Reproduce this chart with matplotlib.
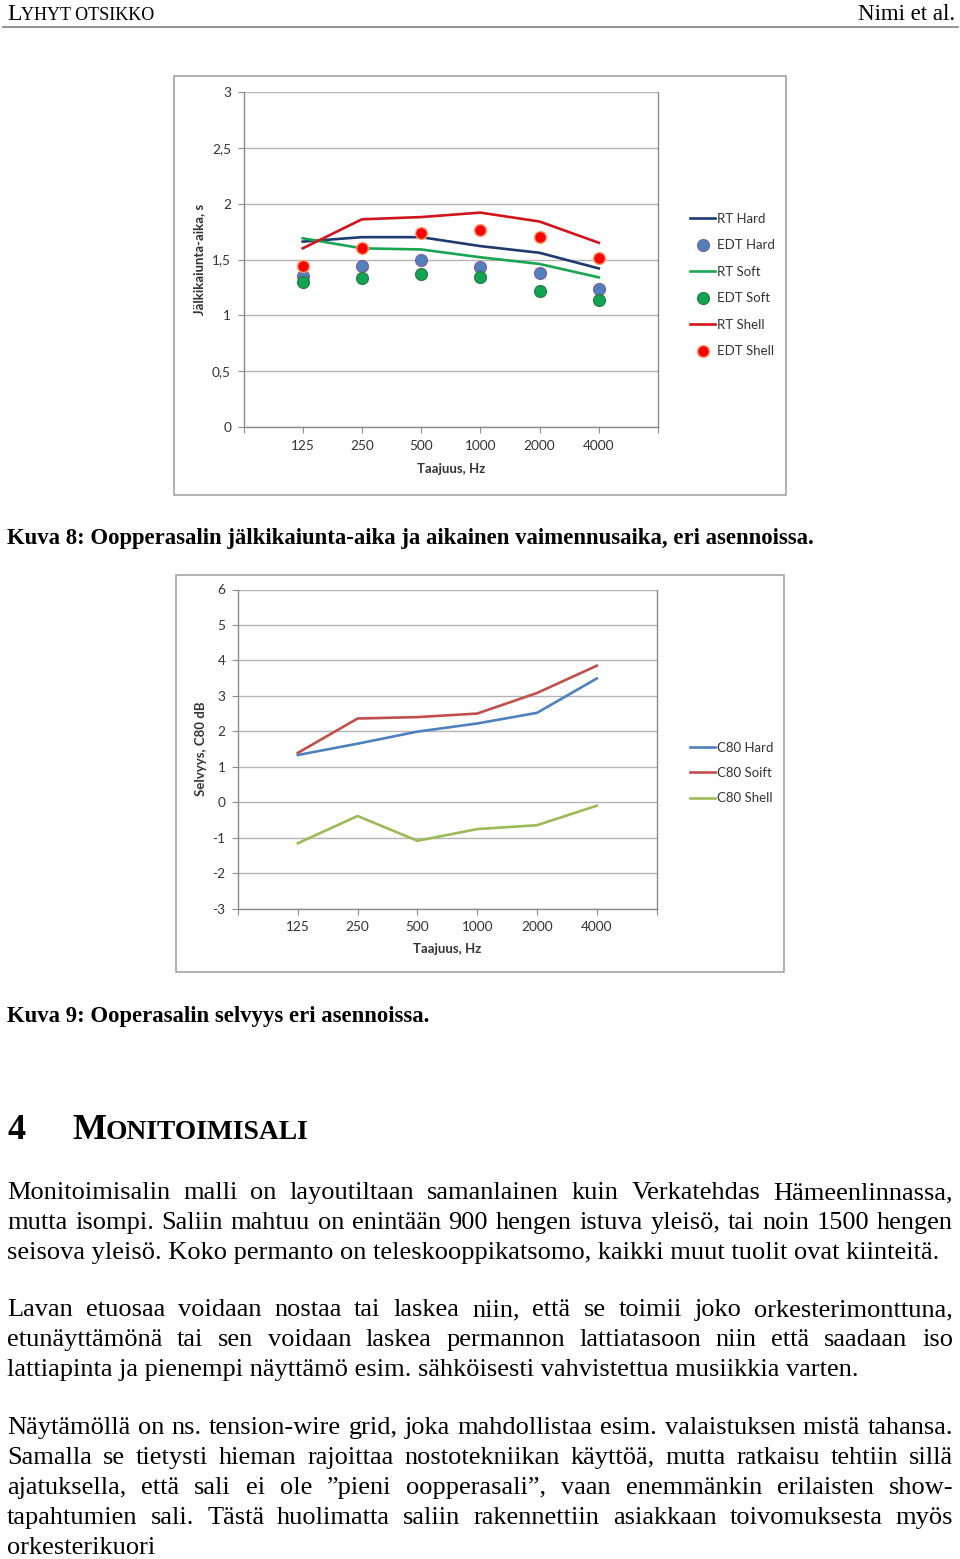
import matplotlib
matplotlib.use('Agg')
import matplotlib.pyplot as plt
from matplotlib.lines import Line2D
from matplotlib.patches import Rectangle

W, H = 960, 1559

freqs = ['125', '250', '500', '1000', '2000', '4000']

# Kuva 8: reverberation times (s)
rt_hard = [1.66, 1.70, 1.70, 1.62, 1.56, 1.42]
edt_hard = [1.35, 1.44, 1.50, 1.43, 1.38, 1.24]
rt_soft = [1.69, 1.60, 1.59, 1.52, 1.46, 1.34]
edt_soft = [1.30, 1.33, 1.37, 1.34, 1.22, 1.14]
rt_shell = [1.60, 1.86, 1.88, 1.92, 1.84, 1.65]
edt_shell = [1.44, 1.60, 1.74, 1.76, 1.70, 1.51]

# Kuva 9: clarity C80 (dB)
c80_hard = [1.33, 1.65, 1.99, 2.22, 2.52, 3.49]
c80_soft = [1.39, 2.36, 2.40, 2.50, 3.08, 3.85]
c80_shell = [-1.16, -0.39, -1.09, -0.76, -0.65, -0.10]

ticks1 = [0, 0.5, 1, 1.5, 2, 2.5, 3]
tick_labels1 = ['0', '0,5', '1', '1,5', '2', '2,5', '3']
ticks2 = list(range(-3, 7))
tick_labels2 = [str(t) for t in ticks2]

chart_font = ['Lato', 'DejaVu Sans']
serif = ['Liberation Serif', 'DejaVu Serif']

fig = plt.figure(figsize=(W / 100, H / 100), dpi=100)
fig.patch.set_facecolor('white')
renderer = fig.canvas.get_renderer()


def fx(x):
    return x / W


def fy(y):
    return 1 - y / H


def style_axes(ax, ticks, labels, ylabel):
    ax.set_xlim(0, 7)
    ax.set_ylim(ticks[0], ticks[-1])
    ax.set_xticks(range(8), [''] + freqs + [''])
    ax.set_yticks(ticks, labels)
    ax.grid(axis='y', color='#b4b4b4', lw=1.0)
    ax.set_axisbelow(True)
    for s in ['left', 'bottom', 'right']:
        ax.spines[s].set_color('#8c8c8c')
        ax.spines[s].set_linewidth(1.0)
    ax.spines['top'].set_visible(False)
    ax.tick_params(direction='out', length=4, color='#8c8c8c', labelsize=9.8,
                   labelcolor='#333333', pad=5)
    for lab in ax.get_xticklabels() + ax.get_yticklabels():
        lab.set_family(chart_font)
    ax.set_xlabel('Taajuus, Hz', family=chart_font, fontsize=9.5,
                  fontweight='bold', color='#333333')
    ax.set_ylabel(ylabel, family=chart_font, fontsize=9.5,
                  fontweight='bold', color='#333333')
    ax.xaxis.label.set_va('center')
    ax.yaxis.label.set_va('center')


x = range(1, 7)

# ---- chart 1 ----
fig.add_artist(Rectangle((fx(174), fy(495)), fx(786) - fx(174), fy(76) - fy(495),
                         transform=fig.transFigure, fill=False,
                         edgecolor='#a6a6a6', lw=1.2))
ax1 = fig.add_axes([fx(243.5), fy(427), fx(658) - fx(243.5), fy(92) - fy(427)])
style_axes(ax1, ticks1, tick_labels1, 'Jälkikaiunta-aika, s')
ax1.xaxis.set_label_coords(0.5, -0.125)
ax1.yaxis.set_label_coords(-0.107, 0.5)

ax1.plot(x, rt_hard, color='#1f3b6e', lw=1.9, label='RT Hard')
ax1.plot(x, edt_hard, ls='none', marker='o', ms=8.5, mfc='#4f81bd', mec='#7f62a0',
         mew=1.0, label='EDT Hard')
ax1.plot(x, rt_soft, color='#1aa552', lw=1.9, label='RT Soft')
ax1.plot(x, edt_soft, ls='none', marker='o', ms=8.5, mfc='#10a550', mec='#2f7d4a',
         mew=1.0, label='EDT Soft')
ax1.plot(x, rt_shell, color='#d0141c', lw=1.9, label='RT Shell')
ax1.plot(x, edt_shell, ls='none', marker='o', ms=8.5, mfc='#ff0000', mec='#ff9966',
         mew=1.0, label='EDT Shell')
ax1.legend(loc='center left', bbox_to_anchor=(fx(690), fy(285)),
           bbox_transform=fig.transFigure, frameon=False, borderpad=0,
           borderaxespad=0, handlelength=1.9, handletextpad=0.15,
           labelspacing=1.1, numpoints=1,
           prop={'family': chart_font, 'size': 9.5}, labelcolor='#333333')

# ---- chart 2 ----
fig.add_artist(Rectangle((fx(176), fy(972)), fx(784) - fx(176), fy(575) - fy(972),
                         transform=fig.transFigure, fill=False,
                         edgecolor='#a6a6a6', lw=1.2))
ax2 = fig.add_axes([fx(238), fy(908.5), fx(656.6) - fx(238), fy(589.5) - fy(908.5)])
style_axes(ax2, ticks2, tick_labels2, 'Selvyys, C80 dB')
ax2.xaxis.set_label_coords(0.5, -0.127)
ax2.yaxis.set_label_coords(-0.088, 0.5)

ax2.plot(x, c80_hard, color='#4f81bd', lw=1.9, label='C80 Hard')
ax2.plot(x, c80_soft, color='#c0504d', lw=1.9, label='C80 Soift')
ax2.plot(x, c80_shell, color='#9bbb59', lw=1.9, label='C80 Shell')
ax2.legend(loc='center left', bbox_to_anchor=(fx(690), fy(773)),
           bbox_transform=fig.transFigure, frameon=False, borderpad=0,
           borderaxespad=0, handlelength=1.9, handletextpad=0.15,
           labelspacing=1.0, prop={'family': chart_font, 'size': 9.5},
           labelcolor='#333333')

# ---- page text ----
def text_width(s, size, weight='normal'):
    t = fig.text(0, 0, s, fontsize=size, family=serif, fontweight=weight)
    w = t.get_window_extent(renderer).width
    t.remove()
    return w


def put(xp, yp, s, size, weight='normal', ha='left'):
    fig.text(fx(xp), fy(yp), s, fontsize=size, family=serif, fontweight=weight,
             ha=ha, va='baseline', color='black')


def put_justified(yp, s, size, x0=7, x1=953):
    words = s.split(' ')
    widths = [text_width(w, size) for w in words]
    gap = (x1 - x0 - sum(widths)) / (len(words) - 1)
    xp = x0
    for w, wd in zip(words, widths):
        put(xp, yp, w, size)
        xp += wd + gap


def put_small_caps(xp, yp, first, rest, big, small, weight='normal'):
    put(xp, yp, first, big, weight)
    put(xp + text_width(first, big, weight), yp, rest, small, weight)


# header
put_small_caps(7, 20, 'L', 'YHYT OTSIKKO', 17, 13)
put(955, 20, 'Nimi et al.', 16.5, ha='right')
fig.add_artist(Line2D([fx(3), fx(958)], [fy(27), fy(27)], color='#808080', lw=1.2))

put(7, 544, 'Kuva 8: Oopperasalin jälkikaiunta-aika ja aikainen vaimennusaika, eri asennoissa.',
    16.4, 'bold')
put(7, 1022, 'Kuva 9: Ooperasalin selvyys eri asennoissa.', 16.4, 'bold')

put(7, 1139, '4', 26, 'bold')
put_small_caps(72, 1139, 'M', 'ONITOIMISALI', 26, 19.8, 'bold')

body = 19
put_justified(1199, 'Monitoimisalin malli on layoutiltaan samanlainen kuin Verkatehdas Hämeenlinnassa,', body)
put_justified(1229, 'mutta isompi. Saliin mahtuu on enintään 900 hengen istuva yleisö, tai noin 1500 hengen', body)
put(7, 1259, 'seisova yleisö. Koko permanto on teleskooppikatsomo, kaikki muut tuolit ovat kiinteitä.', body)

put_justified(1316, 'Lavan etuosaa voidaan nostaa tai laskea niin, että se toimii joko orkesterimonttuna,', body)
put_justified(1346, 'etunäyttämönä tai sen voidaan laskea permannon lattiatasoon niin että saadaan iso', body)
put(7, 1376, 'lattiapinta ja pienempi näyttämö esim. sähköisesti vahvistettua musiikkia varten.', body)

put_justified(1434, 'Näytämöllä on ns. tension-wire grid, joka mahdollistaa esim. valaistuksen mistä tahansa.', body)
put_justified(1464, 'Samalla se tietysti hieman rajoittaa nostotekniikan käyttöä, mutta ratkaisu tehtiin sillä', body)
put_justified(1494, 'ajatuksella, että sali ei ole \u201dpieni oopperasali\u201d, vaan enemmänkin erilaisten show-', body)
put_justified(1524, 'tapahtumien sali. Tästä huolimatta saliin rakennettiin asiakkaan toivomuksesta myös', body)
put(7, 1554, 'orkesterikuori', body)

fig.savefig('out.png', dpi=100)
